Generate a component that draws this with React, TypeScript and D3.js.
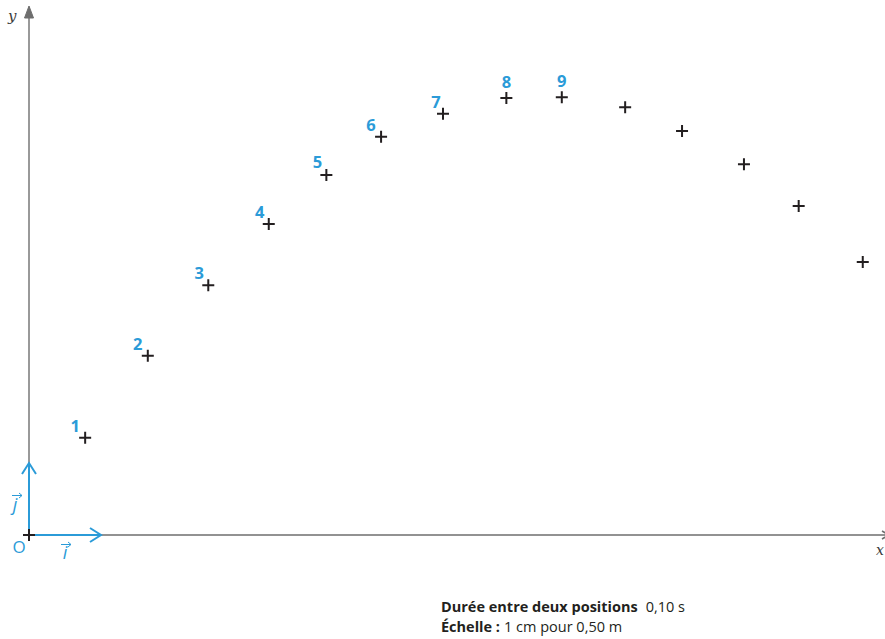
import React from 'react';
import * as d3 from 'd3';

// positions in units of the base vectors (i, j)
const positionLabels = ['1', '2', '3', '4', '5', '6', '7', '8', '9', '', '', '', '', ''];
const xValues = [0.78, 1.65, 2.49, 3.33, 4.13, 4.89, 5.75, 6.63, 7.4, 8.28, 9.07, 9.93, 10.69, 11.58];
const yValues = [1.35, 2.49, 3.47, 4.32, 5.0, 5.53, 5.85, 6.07, 6.08, 5.94, 5.61, 5.15, 4.57, 3.79];
// label offsets (px) next to each cross
const labelDx = [-10, -10, -9, -9, -9, -10, -7, 0, 0, 0, 0, 0, 0, 0];
const labelDy = [-6, -6, -6, -6, -7, -6, -6, -10, -10, 0, 0, 0, 0, 0];

const BLUE = '#2b9bd8';
const GRAY = '#6e6e6e';
const INK = '#231f20';
const SANS = '"Open Sans", "Noto Sans", sans-serif';

const App = () => {
  const width = 885;
  const height = 639;
  const ox = 29;
  const oy = 535;
  const unit = 72;

  const x = d3.scaleLinear().domain([0, 1]).range([ox, ox + unit]);
  const y = d3.scaleLinear().domain([0, 1]).range([oy, oy - unit]);

  const points = xValues.map((v, i) => ({ x: v, y: yValues[i], label: positionLabels[i], dx: labelDx[i], dy: labelDy[i] }));
  const cross = 6;

  const xEnd = 889;
  const yEnd = 6;

  return (
    <svg width={width} height={height} style={{ position: 'absolute', left: 0, top: 0, background: '#fff' }}>
      {/* axes */}
      <line x1={ox} y1={oy} x2={xEnd - 2} y2={oy} stroke={GRAY} strokeWidth={1.4} />
      <path d={`M${xEnd - 7},${oy - 4} L${xEnd},${oy} L${xEnd - 7},${oy + 4}`} fill="none" stroke={GRAY} strokeWidth={1.6} />
      <line x1={ox} y1={oy} x2={ox} y2={yEnd + 4} stroke={GRAY} strokeWidth={1.4} />
      <path d={`M${ox - 4.5},${yEnd + 12} L${ox},${yEnd} L${ox + 4.5},${yEnd + 12} Z`} fill={GRAY} stroke={GRAY} strokeWidth={1} />
      <text x={8} y={21} fontFamily="'DejaVu Serif', serif" fontStyle="italic" fontSize={15} fill="#3a3a3a">y</text>
      <text x={876} y={555} fontFamily="'DejaVu Serif', serif" fontStyle="italic" fontSize={14} fill="#3a3a3a">x</text>

      {/* base vectors */}
      <line x1={x(0)} y1={oy} x2={x(1)} y2={oy} stroke={BLUE} strokeWidth={2} />
      <path d={`M${x(1) - 11},${oy - 7} L${x(1)},${oy} L${x(1) - 11},${oy + 7}`} fill="none" stroke={BLUE} strokeWidth={2} />
      <line x1={ox} y1={y(0)} x2={ox} y2={y(1)} stroke={BLUE} strokeWidth={2} />
      <path d={`M${ox - 7},${y(1) + 11} L${ox},${y(1)} L${ox + 7},${y(1) + 11}`} fill="none" stroke={BLUE} strokeWidth={2} />

      <text x={19} y={553} textAnchor="middle" fontFamily={SANS} fontSize={17} fill={BLUE}>O</text>
      <g fontFamily={SANS} fontStyle="italic" fill={BLUE}>
        <text x={65} y={559} textAnchor="middle" fontSize={18}>i</text>
        <path d="M61,544.5 L71,544.5 M68,542 L71,544.5 L68,547" fill="none" stroke={BLUE} strokeWidth={1} />
        <text x={15} y={511} textAnchor="middle" fontSize={18}>j</text>
        <path d="M12,495.5 L22,495.5 M19,493 L22,495.5 L19,498" fill="none" stroke={BLUE} strokeWidth={1} />
      </g>

      {/* origin cross */}
      <path d={`M${ox - cross},${oy} H${ox + cross} M${ox},${oy - cross} V${oy + cross}`} stroke={INK} strokeWidth={2} />

      {/* positions */}
      {points.map((p, i) => (
        <g key={i}>
          <path
            d={`M${x(p.x) - cross},${y(p.y)} H${x(p.x) + cross} M${x(p.x)},${y(p.y) - cross} V${y(p.y) + cross}`}
            stroke={INK}
            strokeWidth={2}
          />
          {p.label && (
            <text x={x(p.x) + p.dx} y={y(p.y) + p.dy} textAnchor="middle" fontFamily={SANS} fontWeight={700} fontSize={16.5} fill={BLUE}>
              {p.label}
            </text>
          )}
        </g>
      ))}

      {/* caption */}
      <g fontFamily={SANS} fontSize={14.5} fill={INK}>
        <text x={441} y={612}>
          <tspan fontWeight={700}>Durée entre deux positions</tspan>
          <tspan dx={8}>0,10 s</tspan>
        </text>
        <text x={441} y={632}>
          <tspan fontWeight={700}>Échelle :</tspan>
          <tspan dx={4}>1 cm pour 0,50 m</tspan>
        </text>
      </g>
    </svg>
  );
};

export default App;
